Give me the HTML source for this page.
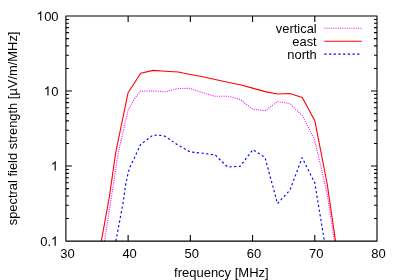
<!DOCTYPE html>
<html><head><meta charset="utf-8"><style>
html,body{margin:0;padding:0;background:#fff;}
svg{display:block;will-change:transform;}
text{font-family:"Liberation Sans",sans-serif;font-size:13.0px;fill:#000;}
</style></head><body>
<svg width="399" height="280" viewBox="0 0 399 280">
<rect width="399" height="280" fill="#fff"/>
<g fill="none" stroke-linejoin="round">
<polyline points="104.50,241.10 110.70,202.00 118.20,153.00 128.20,109.80 134.10,99.30 140.30,91.30 153.00,90.80 165.30,91.80 177.50,88.60 190.10,88.30 202.60,92.70 215.00,96.30 228.20,96.30 240.10,99.40 252.50,109.10 265.10,110.70 277.60,101.55 289.80,103.50 302.30,115.70 314.60,139.70 327.20,194.00 334.40,241.10" stroke="#ff00ff" stroke-width="1.1" stroke-dasharray="1 1.25"/>
<polyline points="101.30,241.10 109.50,196.00 115.70,152.50 128.10,92.70 140.70,73.30 153.20,70.40 165.50,71.20 178.20,72.00 190.30,74.50 202.80,76.80 215.20,79.50 227.70,82.20 240.10,84.80 252.50,88.10 265.10,91.65 277.60,94.00 289.80,93.50 302.30,97.50 314.80,120.65 327.20,184.00 335.50,241.10" stroke="#ff0000" stroke-width="1.1"/>
<polyline points="115.90,241.10 123.60,200.00 125.20,187.00 128.10,173.00 130.00,167.00 134.40,158.00 140.60,144.50 153.10,135.00 163.20,135.65 165.50,136.50 177.90,145.10 190.30,152.00 202.80,153.30 215.20,155.00 227.50,166.90 240.10,166.30 252.90,149.60 265.00,157.50 277.50,203.60 290.00,190.00 302.10,157.70 314.80,183.00 324.40,241.10" stroke="#0000ff" stroke-width="1.15" stroke-dasharray="2.2 2.5"/>
<path d="M324.3 28.3H361.7" stroke="#ff00ff" stroke-width="1.1" stroke-dasharray="1 1.25"/>
<path d="M324.3 41.3H361.7" stroke="#ff0000" stroke-width="1.1"/>
<path d="M324.3 54.1H361.7" stroke="#0000ff" stroke-width="1.15" stroke-dasharray="2.2 2.5"/>
<path d="M128.12 241.1 V235.1 M128.12 16.0 V22.0 M190.34 241.1 V235.1 M190.34 16.0 V22.0 M252.56 241.1 V235.1 M252.56 16.0 V22.0 M314.78 241.1 V235.1 M314.78 16.0 V22.0 M65.9 218.51 H68.9 M377.0 218.51 H374.0 M65.9 205.30 H68.9 M377.0 205.30 H374.0 M65.9 195.93 H68.9 M377.0 195.93 H374.0 M65.9 188.65 H68.9 M377.0 188.65 H374.0 M65.9 182.71 H68.9 M377.0 182.71 H374.0 M65.9 177.69 H68.9 M377.0 177.69 H374.0 M65.9 173.34 H68.9 M377.0 173.34 H374.0 M65.9 169.50 H68.9 M377.0 169.50 H374.0 M65.9 166.07 H71.9 M377.0 166.07 H371.0 M65.9 143.48 H68.9 M377.0 143.48 H374.0 M65.9 130.27 H68.9 M377.0 130.27 H374.0 M65.9 120.89 H68.9 M377.0 120.89 H374.0 M65.9 113.62 H68.9 M377.0 113.62 H374.0 M65.9 107.68 H68.9 M377.0 107.68 H374.0 M65.9 102.66 H68.9 M377.0 102.66 H374.0 M65.9 98.30 H68.9 M377.0 98.30 H374.0 M65.9 94.47 H68.9 M377.0 94.47 H374.0 M65.9 91.03 H71.9 M377.0 91.03 H371.0 M65.9 68.45 H68.9 M377.0 68.45 H374.0 M65.9 55.23 H68.9 M377.0 55.23 H374.0 M65.9 45.86 H68.9 M377.0 45.86 H374.0 M65.9 38.59 H68.9 M377.0 38.59 H374.0 M65.9 32.65 H68.9 M377.0 32.65 H374.0 M65.9 27.62 H68.9 M377.0 27.62 H374.0 M65.9 23.27 H68.9 M377.0 23.27 H374.0 M65.9 19.43 H68.9 M377.0 19.43 H374.0" stroke="#000" stroke-width="1.1"/>
<rect x="65.9" y="16.0" width="311.10" height="225.10" stroke="#000" stroke-width="1.1"/>
</g>
<g opacity="0.999">
<path d="M763 0H583V1147Q518 1085 412.5 1023Q307 961 223 930V1104Q374 1175 487 1276Q600 1377 647 1472H763Z" transform="translate(36.47,20.55) scale(0.006348,-0.006348)" fill="#000"/>
<text x="58.6" y="20.55" text-anchor="end">00</text>
<path d="M763 0H583V1147Q518 1085 412.5 1023Q307 961 223 930V1104Q374 1175 487 1276Q600 1377 647 1472H763Z" transform="translate(43.69,95.58) scale(0.006348,-0.006348)" fill="#000"/>
<text x="58.6" y="95.58" text-anchor="end">0</text>
<path d="M763 0H583V1147Q518 1085 412.5 1023Q307 961 223 930V1104Q374 1175 487 1276Q600 1377 647 1472H763Z" transform="translate(50.92,170.62) scale(0.006348,-0.006348)" fill="#000"/>
<path d="M763 0H583V1147Q518 1085 412.5 1023Q307 961 223 930V1104Q374 1175 487 1276Q600 1377 647 1472H763Z" transform="translate(50.92,245.65) scale(0.006348,-0.006348)" fill="#000"/>
<text x="51.07" y="245.65" text-anchor="end">0.</text>
<text x="67.40" y="258.4" text-anchor="middle">30</text>
<text x="129.62" y="258.4" text-anchor="middle">40</text>
<text x="191.84" y="258.4" text-anchor="middle">50</text>
<text x="254.06" y="258.4" text-anchor="middle">60</text>
<text x="316.28" y="258.4" text-anchor="middle">70</text>
<text x="378.50" y="258.4" text-anchor="middle">80</text>
<text x="221.35" y="277.0" text-anchor="middle">frequency [MHz]</text>
<text transform="translate(16.6,128.4) rotate(-90)" text-anchor="middle" style="font-size:12.9px">spectral field strength [µV/m/MHz]</text>
<text x="316.7" y="32.70" text-anchor="end" style="font-size:12.9px">vertical</text>
<text x="316.7" y="45.70" text-anchor="end" style="font-size:12.9px">east</text>
<text x="316.7" y="58.70" text-anchor="end" style="font-size:12.9px">north</text>
</g>
</svg>
</body></html>
